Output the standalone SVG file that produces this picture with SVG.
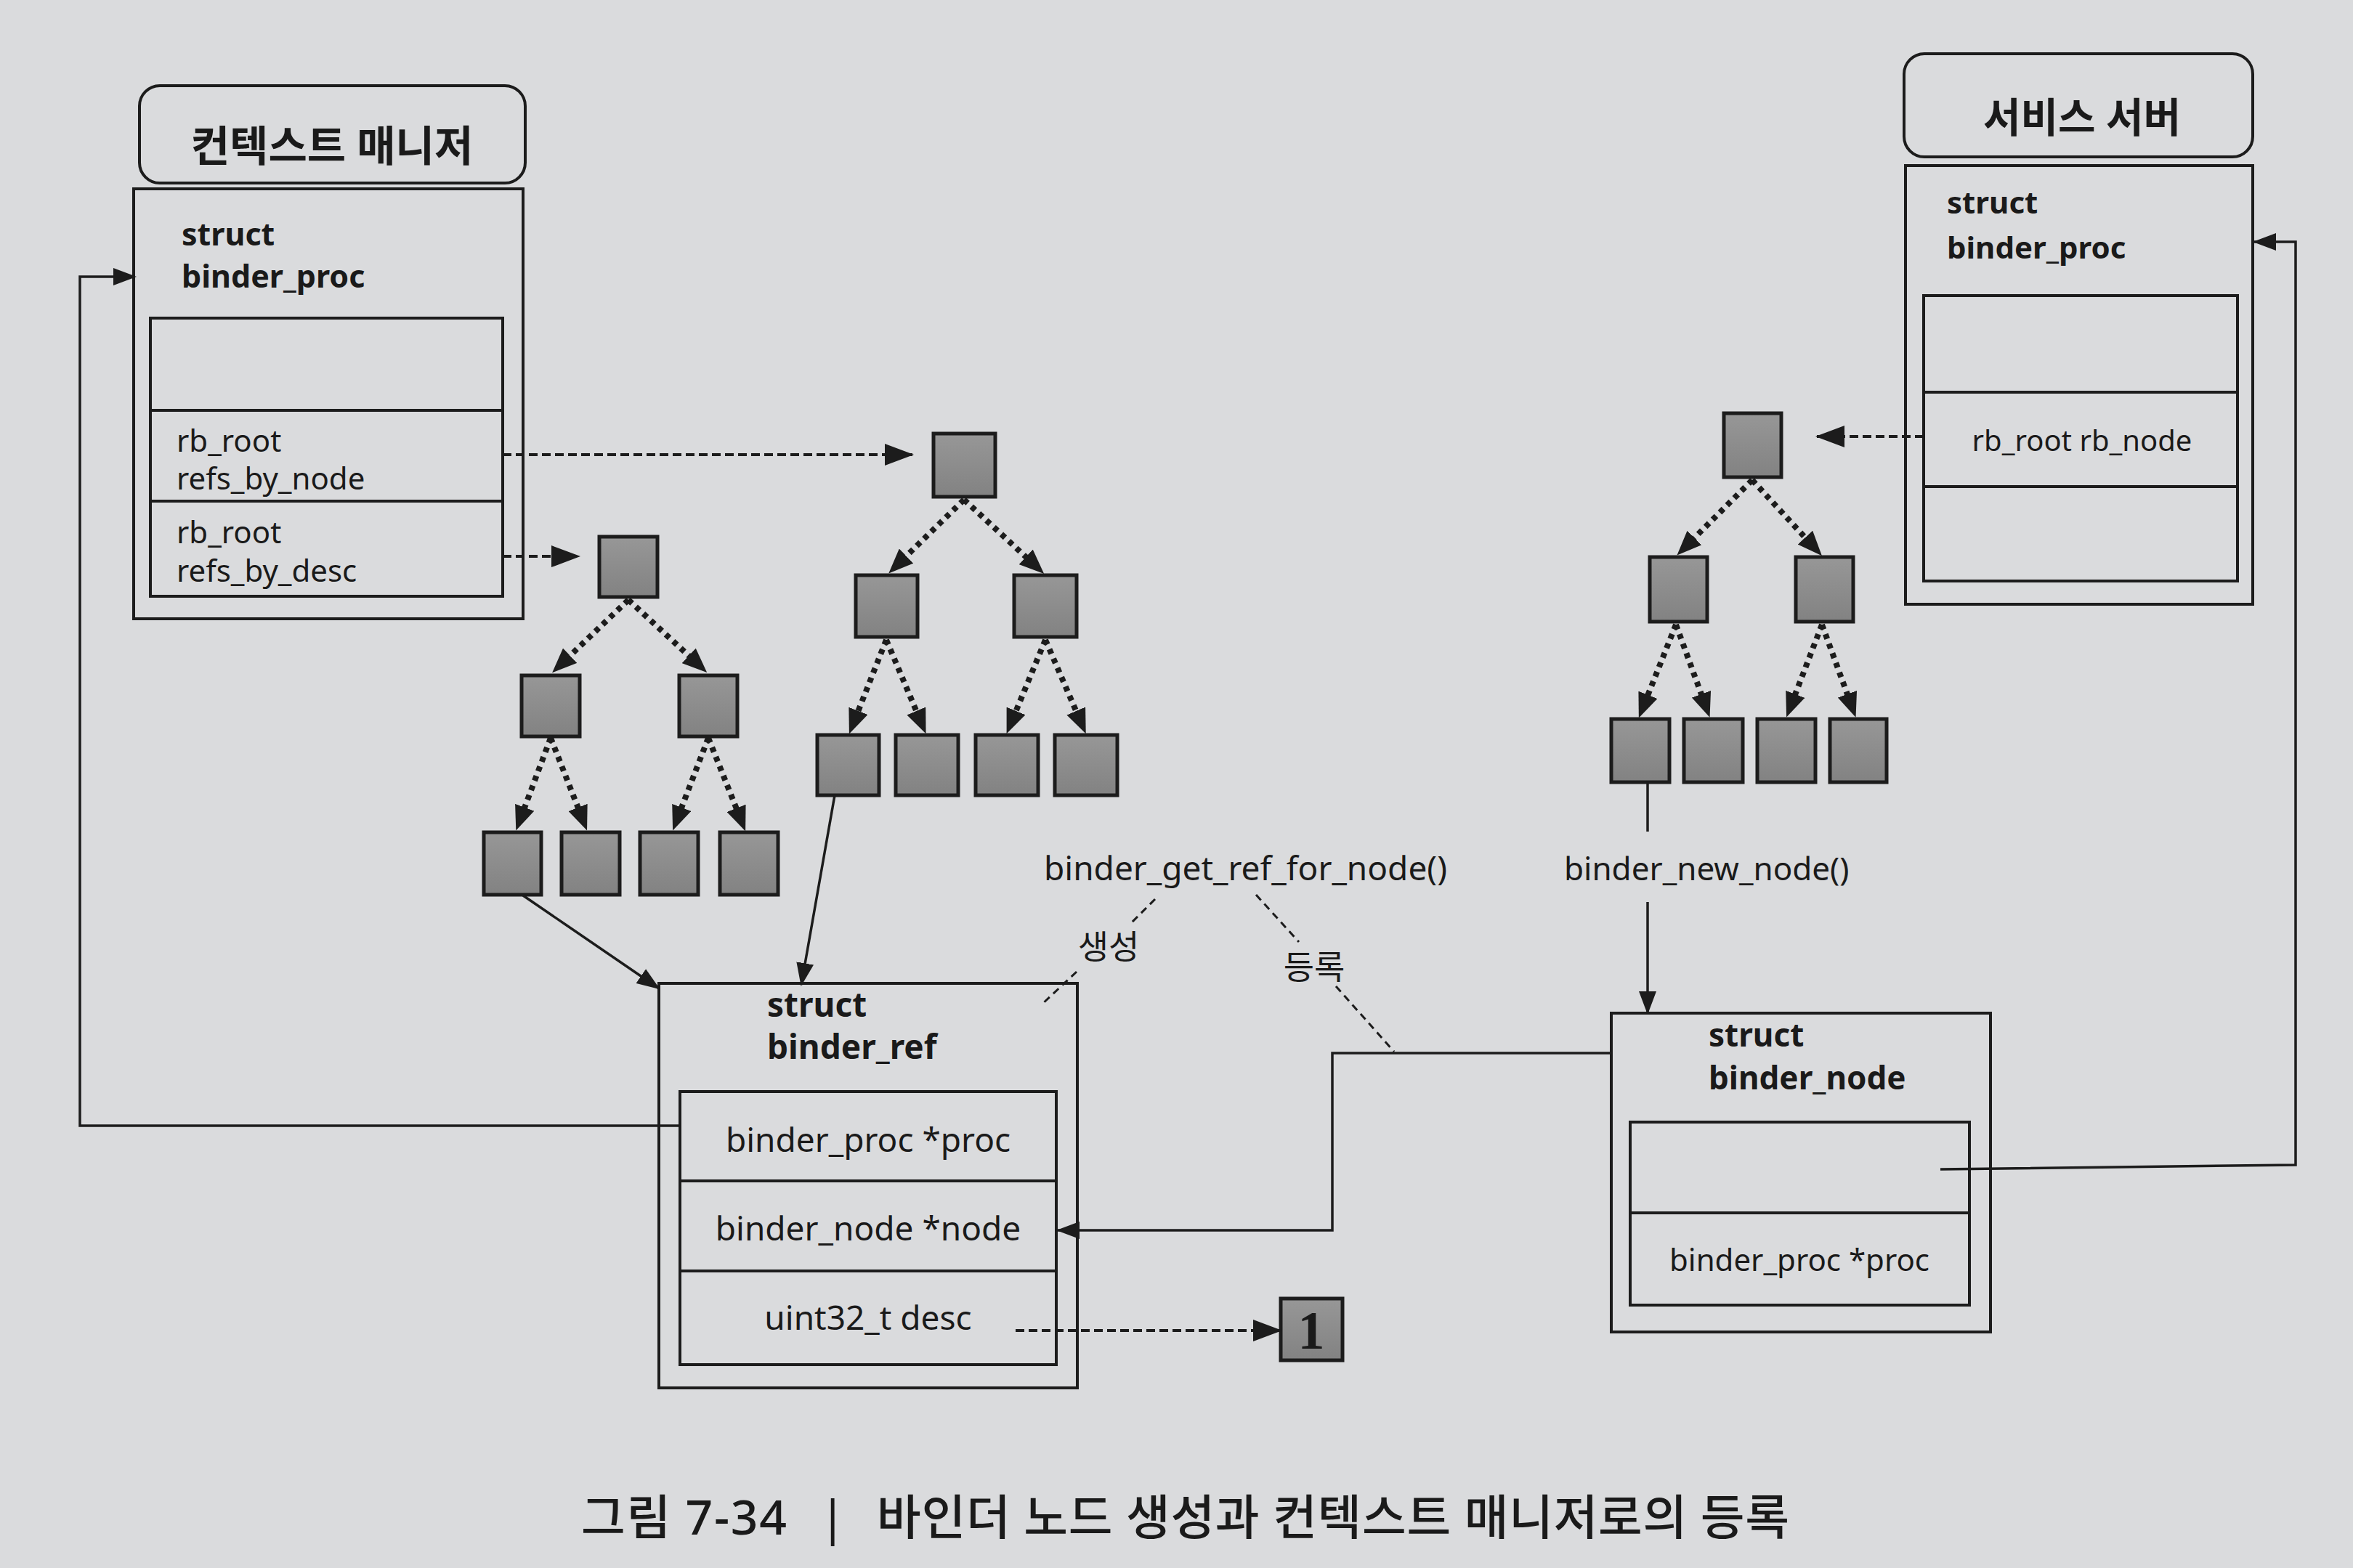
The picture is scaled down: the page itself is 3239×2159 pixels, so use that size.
<svg xmlns="http://www.w3.org/2000/svg" width="3239" height="2159" viewBox="0 0 3239 2159">
<defs>
<style>
.box{fill:none;stroke:#1c1c1c;stroke-width:4}
.tn{fill:url(#gr);stroke:#1c1c1c;stroke-width:5}
.ln{fill:none;stroke:#1c1c1c;stroke-width:3.5}
.dash{fill:none;stroke:#1c1c1c;stroke-width:4;stroke-dasharray:12 6}
.lead{fill:none;stroke:#1c1c1c;stroke-width:3;stroke-dasharray:10 7}
.dot{fill:none;stroke:#1c1c1c;stroke-width:8;stroke-dasharray:7 7}
.t{font-family:"Noto Sans","Noto Sans CJK KR",sans-serif;fill:#1a1a1a}
.b{font-weight:bold}
.m{text-anchor:middle}
</style>
<linearGradient id="gr" x1="0" y1="0" x2="0" y2="1">
<stop offset="0" stop-color="#979797"/>
<stop offset="1" stop-color="#828282"/>
</linearGradient>
<marker id="at" markerUnits="userSpaceOnUse" markerWidth="34" markerHeight="28" viewBox="0 0 34 28" refX="12" refY="14" orient="auto"><path d="M0,0 L34,14 L0,28 z" fill="#1c1c1c"/></marker>
<marker id="as" markerUnits="userSpaceOnUse" markerWidth="32" markerHeight="24" viewBox="0 0 32 24" refX="30" refY="12" orient="auto"><path d="M0,0 L32,12 L0,24 z" fill="#1c1c1c"/></marker>
<marker id="ad" markerUnits="userSpaceOnUse" markerWidth="40" markerHeight="30" viewBox="0 0 40 30" refX="38" refY="15" orient="auto"><path d="M0,0 L40,15 L0,30 z" fill="#1c1c1c"/></marker>
</defs>
<rect x="0" y="0" width="3239" height="2159" fill="#dadbdd"/>

<g id="context-manager">
<rect class="box" x="192" y="118" width="531" height="134" rx="28"/>
<text class="t b m" x="457" y="222" font-size="58">컨텍스트 매니저</text>
<rect class="box" x="184" y="260" width="536" height="592"/>
<text class="t b" x="250" y="338" font-size="43">struct</text>
<text class="t b" x="250" y="396" font-size="43">binder_proc</text>
<rect class="box" x="207" y="438" width="485" height="383"/>
<line class="box" x1="207" y1="565" x2="692" y2="565"/>
<line class="box" x1="207" y1="690" x2="692" y2="690"/>
<text class="t" x="243" y="622" font-size="42">rb_root</text>
<text class="t" x="243" y="674" font-size="42">refs_by_node</text>
<text class="t" x="243" y="748" font-size="42">rb_root</text>
<text class="t" x="243" y="801" font-size="42">refs_by_desc</text>
</g>

<g id="service-server">
<rect class="box" x="2621" y="74" width="480" height="142" rx="28"/>
<text class="t b m" x="2866" y="182" font-size="56">서비스 서버</text>
<rect class="box" x="2623" y="228" width="478" height="604"/>
<text class="t b" x="2680" y="294" font-size="42">struct</text>
<text class="t b" x="2680" y="356" font-size="42">binder_proc</text>
<rect class="box" x="2648" y="407" width="432" height="393"/>
<line class="box" x1="2648" y1="540" x2="3080" y2="540"/>
<line class="box" x1="2648" y1="670" x2="3080" y2="670"/>
<text class="t m" x="2866" y="621" font-size="40">rb_root rb_node</text>
</g>

<g id="binder-ref">
<rect class="box" x="907" y="1354" width="576" height="557"/>
<text class="t b" x="1056" y="1400" font-size="46">struct</text>
<text class="t b" x="1056" y="1458" font-size="46">binder_ref</text>
<rect class="box" x="936" y="1503" width="518" height="376"/>
<line class="box" x1="936" y1="1626" x2="1454" y2="1626"/>
<line class="box" x1="936" y1="1750" x2="1454" y2="1750"/>
<text class="t m" x="1195" y="1586" font-size="46">binder_proc *proc</text>
<text class="t m" x="1195" y="1708" font-size="46">binder_node *node</text>
<text class="t m" x="1195" y="1831" font-size="46">uint32_t desc</text>
</g>

<g id="binder-node">
<rect class="box" x="2218" y="1395" width="522" height="439"/>
<text class="t b" x="2352" y="1441" font-size="44">struct</text>
<text class="t b" x="2352" y="1500" font-size="44">binder_node</text>
<rect class="box" x="2244" y="1545" width="467" height="252"/>
<line class="box" x1="2244" y1="1670" x2="2711" y2="1670"/>
<text class="t m" x="2477" y="1750" font-size="42">binder_proc *proc</text>
</g>

<g id="desc-tree">
<rect class="tn" x="825" y="739" width="80" height="83"/>
<rect class="tn" x="718" y="930" width="80" height="84"/>
<rect class="tn" x="935" y="930" width="80" height="84"/>
<rect class="tn" x="666" y="1146" width="79" height="86"/>
<rect class="tn" x="773" y="1146" width="80" height="86"/>
<rect class="tn" x="881" y="1146" width="80" height="86"/>
<rect class="tn" x="991" y="1146" width="80" height="86"/>
</g>

<g id="node-tree">
<rect class="tn" x="1285" y="597" width="85" height="87"/>
<rect class="tn" x="1178" y="792" width="85" height="85"/>
<rect class="tn" x="1396" y="792" width="86" height="85"/>
<rect class="tn" x="1125" y="1012" width="85" height="83"/>
<rect class="tn" x="1233" y="1012" width="86" height="83"/>
<rect class="tn" x="1343" y="1012" width="86" height="83"/>
<rect class="tn" x="1452" y="1012" width="86" height="83"/>
</g>

<g id="service-tree">
<rect class="tn" x="2373" y="569" width="79" height="88"/>
<rect class="tn" x="2271" y="767" width="79" height="89"/>
<rect class="tn" x="2472" y="767" width="79" height="89"/>
<rect class="tn" x="2218" y="990" width="80" height="87"/>
<rect class="tn" x="2318" y="990" width="81" height="87"/>
<rect class="tn" x="2419" y="990" width="80" height="87"/>
<rect class="tn" x="2519" y="990" width="78" height="87"/>
</g>

<g id="desc-value">
<rect class="tn" x="1763" y="1788" width="85" height="85"/>
<text x="1805" y="1857" font-size="74" text-anchor="middle" font-family="Liberation Serif, serif" font-weight="bold" fill="#1a1a1a">1</text>
</g>

<g id="labels">
<text class="t" x="1437" y="1212" font-size="46">binder_get_ref_for_node()</text>
<text class="t" x="2153" y="1212" font-size="44">binder_new_node()</text>
<text class="t m" x="1526" y="1320" font-size="46">생성</text>
<text class="t m" x="1809" y="1348" font-size="46">등록</text>
</g>

<g id="connectors">
<line class="dot" x1="865" y1="826" x2="776" y2="911" marker-end="url(#at)"/>
<line class="dot" x1="865" y1="826" x2="957" y2="911" marker-end="url(#at)"/>
<line class="dot" x1="758" y1="1016" x2="718" y2="1123" marker-end="url(#at)"/>
<line class="dot" x1="758" y1="1016" x2="800" y2="1123" marker-end="url(#at)"/>
<line class="dot" x1="975" y1="1016" x2="934" y2="1123" marker-end="url(#at)"/>
<line class="dot" x1="975" y1="1016" x2="1018" y2="1124" marker-end="url(#at)"/>

<line class="dot" x1="1327" y1="688" x2="1239" y2="774" marker-end="url(#at)"/>
<line class="dot" x1="1327" y1="688" x2="1421" y2="775" marker-end="url(#at)"/>
<line class="dot" x1="1220" y1="881" x2="1177" y2="990" marker-end="url(#at)"/>
<line class="dot" x1="1220" y1="881" x2="1266" y2="990" marker-end="url(#at)"/>
<line class="dot" x1="1439" y1="881" x2="1394" y2="990" marker-end="url(#at)"/>
<line class="dot" x1="1439" y1="881" x2="1486" y2="990" marker-end="url(#at)"/>

<line class="dot" x1="2412" y1="661" x2="2324" y2="749" marker-end="url(#at)"/>
<line class="dot" x1="2412" y1="661" x2="2493" y2="749" marker-end="url(#at)"/>
<line class="dot" x1="2307" y1="860" x2="2264" y2="968" marker-end="url(#at)"/>
<line class="dot" x1="2307" y1="860" x2="2346" y2="967" marker-end="url(#at)"/>
<line class="dot" x1="2508" y1="860" x2="2467" y2="967" marker-end="url(#at)"/>
<line class="dot" x1="2508" y1="860" x2="2547" y2="967" marker-end="url(#at)"/>

<line class="dash" x1="692" y1="626" x2="1256" y2="626" marker-end="url(#ad)"/>
<line class="dash" x1="692" y1="766" x2="797" y2="766" marker-end="url(#ad)"/>
<line class="dash" x1="2648" y1="601" x2="2501" y2="601" marker-end="url(#ad)"/>
<line class="dash" x1="1398" y1="1832" x2="1763" y2="1832" marker-end="url(#ad)"/>

<line class="ln" x1="720" y1="1233" x2="907" y2="1361" marker-end="url(#as)"/>
<line class="ln" x1="1149" y1="1095" x2="1103" y2="1356" marker-end="url(#as)"/>
<polyline class="ln" points="936,1550 110,1550 110,381 186,381" marker-end="url(#as)"/>
<polyline class="ln" points="2671,1610 3160,1604 3160,333 3103,333" marker-end="url(#as)"/>
<polyline class="ln" points="2218,1450 1834,1450 1834,1694 1456,1694" marker-end="url(#as)"/>
<line class="ln" x1="2268" y1="1077" x2="2268" y2="1145"/>
<line class="ln" x1="2268" y1="1242" x2="2268" y2="1395" marker-end="url(#as)"/>

<line class="lead" x1="1590" y1="1238" x2="1555" y2="1273"/>
<line class="lead" x1="1482" y1="1338" x2="1434" y2="1383"/>
<line class="lead" x1="1729" y1="1232" x2="1788" y2="1297"/>
<line class="lead" x1="1839" y1="1358" x2="1919" y2="1448"/>
</g>

<g id="caption">
<text class="t" x="800" y="2113" font-size="66" font-weight="500" textLength="283">그림 7-34</text>
<text class="t" x="1128" y="2113" font-size="66">|</text>
<text class="t" x="1207" y="2113" font-size="66" font-weight="500" textLength="1256">바인더 노드 생성과 컨텍스트 매니저로의 등록</text>
</g>
</svg>
